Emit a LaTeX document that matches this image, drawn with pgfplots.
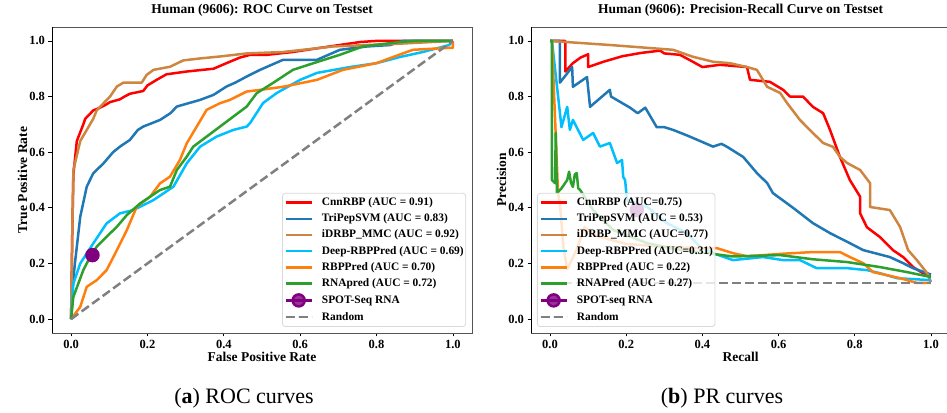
\documentclass[border=0pt]{standalone}
\usepackage{pgfplots}
\pgfplotsset{compat=1.18}
\usepackage{fontspec}
\setmainfont{Liberation Serif}
\definecolor{cRed}{RGB}{255,0,0}
\definecolor{cBlue}{HTML}{1F77B4}
\definecolor{cPeru}{HTML}{CD853F}
\definecolor{cCyan}{HTML}{00BFFF}
\definecolor{cOrange}{HTML}{FF7F0E}
\definecolor{cGreen}{HTML}{2CA02C}
\definecolor{cPurple}{HTML}{800080}
\definecolor{cGray}{HTML}{808080}
\definecolor{cSpine}{HTML}{555555}

\pgfplotsset{
  myaxis/.style={
    scale only axis, width=420pt, height=306pt,
    xmin=-0.05, xmax=1.05, ymin=-0.05, ymax=1.05,
    xtick={0,0.2,0.4,0.6,0.8,1.0}, ytick={0,0.2,0.4,0.6,0.8,1.0},
    /pgf/number format/.cd, fixed, fixed zerofill, precision=1, assume math mode=true, /pgfplots/.cd,
    ticklabel style={font=\fontsize{12.5}{14}\selectfont\bfseries},
    tick align=outside, xtick pos=left, ytick pos=left,
    major tick length=3.5pt, tick style={black, line width=0.8pt},
    axis line style={draw=cSpine, line width=0.8pt},
    title style={font=\fontsize{13.5}{15}\selectfont\bfseries, at={(0.5,1)}, anchor=base, yshift=7pt},
    xlabel style={font=\fontsize{13.5}{15}\selectfont\bfseries, at={(axis description cs:0.5,0)}, anchor=base, yshift=-29pt},
    ylabel style={font=\fontsize{13.5}{15}\selectfont\bfseries, at={(axis description cs:-0.0595,0.5)}, anchor=base},
    every axis plot/.append style={line width=2.5pt, line join=round},
    legend cell align=left,
    legend image code/.code={\draw[mark repeat=2,mark phase=2,#1] plot coordinates {(0pt,0pt) (13pt,0pt) (26pt,0pt)};},
    legend style={font=\fontsize{11.4}{13}\selectfont\bfseries, draw=black!15, line width=0.8pt,
      rounded corners=3pt, fill=white, fill opacity=0.8, draw opacity=1, text opacity=1,
      inner xsep=2pt, inner ysep=4pt, row sep=5.4pt, column sep=9pt,
      nodes={inner xsep=0pt, inner ysep=0pt, text height=8.3pt, text depth=2.5pt}},
  }
}

\begin{document}
\begin{tikzpicture}
\useasboundingbox (0,0) rectangle (947pt,412pt);
% ---------------- ROC ----------------
\begin{axis}[myaxis, at={(52pt,79pt)}, anchor=south west,
  title={Human (9606): ROC Curve on Testset},
  xlabel={False Positive Rate}, ylabel={True Positive Rate},
  legend style={at={(0.986,0.0196)}, anchor=south east}]
\addplot[cRed] coordinates {(0,0) (0.003,0.3) (0.006,0.52) (0.015,0.64) (0.032,0.70) (0.037,0.72) (0.058,0.75) (0.076,0.76) (0.09,0.77) (0.102,0.78) (0.128,0.79) (0.14,0.80) (0.154,0.81) (0.189,0.82) (0.2,0.84) (0.224,0.86) (0.25,0.88) (0.303,0.89) (0.373,0.90) (0.39,0.91) (0.407,0.92) (0.442,0.94) (0.469,0.95) (0.513,0.95) (0.58,0.96) (0.652,0.975) (0.757,0.996) (0.80,1.0) (1,1)};
\addlegendentry{CnnRBP (AUC = 0.91)}
\addplot[cBlue] coordinates {(0,0) (0.003,0.1) (0.010,0.20) (0.024,0.368) (0.041,0.476) (0.058,0.524) (0.085,0.56) (0.11,0.60) (0.128,0.62) (0.154,0.644) (0.175,0.68) (0.189,0.692) (0.233,0.716) (0.26,0.74) (0.277,0.764) (0.338,0.788) (0.373,0.806) (0.407,0.836) (0.43,0.85) (0.46,0.872) (0.495,0.896) (0.555,0.932) (0.644,0.932) (0.704,0.968) (0.775,0.98) (0.835,0.985) (0.87,1.0) (1,1)};
\addlegendentry{TriPepSVM (AUC = 0.83)}
\addplot[cPeru] coordinates {(0,0) (0.003,0.3) (0.006,0.536) (0.024,0.64) (0.041,0.68) (0.058,0.72) (0.067,0.75) (0.085,0.776) (0.102,0.80) (0.12,0.836) (0.137,0.85) (0.185,0.85) (0.198,0.878) (0.216,0.896) (0.259,0.907) (0.294,0.93) (0.338,0.937) (0.39,0.944) (0.46,0.955) (0.555,0.96) (0.686,0.98) (0.86,0.99) (1,1)};
\addlegendentry{iDRBP\_MMC (AUC = 0.92)}
\addplot[cCyan] coordinates {(0,0) (0.006,0.128) (0.024,0.2) (0.058,0.272) (0.093,0.344) (0.128,0.38) (0.163,0.392) (0.216,0.428) (0.268,0.476) (0.303,0.56) (0.338,0.62) (0.381,0.656) (0.425,0.68) (0.46,0.692) (0.469,0.705) (0.503,0.777) (0.539,0.813) (0.6,0.86) (0.644,0.885) (0.73,0.906) (0.80,0.92) (0.861,0.942) (0.921,0.96) (0.99,0.985) (1,1)};
\addlegendentry{Deep-RBPPred (AUC = 0.69)}
\addplot[cOrange] coordinates {(0,0) (0.024,0.044) (0.041,0.116) (0.067,0.14) (0.093,0.176) (0.12,0.248) (0.146,0.32) (0.172,0.404) (0.207,0.44) (0.233,0.488) (0.259,0.512) (0.285,0.572) (0.303,0.632) (0.329,0.692) (0.355,0.752) (0.39,0.776) (0.416,0.788) (0.46,0.818) (0.495,0.824) (0.555,0.835) (0.644,0.86) (0.712,0.896) (0.80,0.92) (0.843,0.942) (0.895,0.968) (0.99,0.975) (1,0.975) (1,1)};
\addlegendentry{RBPPred (AUC = 0.70)}
\addplot[cGreen] coordinates {(0,0) (0.006,0.08) (0.019,0.128) (0.032,0.176) (0.05,0.224) (0.067,0.26) (0.093,0.296) (0.12,0.332) (0.146,0.374) (0.181,0.416) (0.233,0.464) (0.259,0.476) (0.277,0.536) (0.303,0.584) (0.32,0.62) (0.355,0.656) (0.39,0.692) (0.425,0.728) (0.46,0.764) (0.486,0.812) (0.529,0.849) (0.581,0.896) (0.644,0.924) (0.704,0.95) (0.764,0.98) (0.861,0.996) (0.9,1.0) (1,1)};
\addlegendentry{RNApred (AUC = 0.72)}
\addplot[cPurple, mark=*, mark size=6pt] coordinates {(0.056,0.23)};
\addlegendentry{SPOT-Seq RNA}
\addplot[cGray, dash pattern=on 9pt off 4pt] coordinates {(0,0) (1,1)};
\addlegendentry{Random}
\draw[black, line width=0.8pt] (rel axis cs:0,1) -- (rel axis cs:0,0) -- (rel axis cs:1,0);
\end{axis}
% ---------------- PR ----------------
\begin{axis}[myaxis, at={(531pt,79pt)}, anchor=south west, width=419pt,
  title={Human (9606): Precision-Recall Curve on Testset},
  xlabel={Recall}, ylabel={Precision},
  legend style={at={(0.0143,0.0196)}, anchor=south west}]
\addplot[cRed] coordinates {(0,1) (0.04,1) (0.04,0.89) (0.06,0.92) (0.08,0.94) (0.10,0.952) (0.10,0.906) (0.14,0.925) (0.19,0.945) (0.24,0.957) (0.289,0.965) (0.30,0.955) (0.341,0.95) (0.375,0.925) (0.40,0.906) (0.446,0.914) (0.517,0.906) (0.525,0.86) (0.577,0.853) (0.612,0.824) (0.63,0.80) (0.664,0.80) (0.69,0.763) (0.717,0.74) (0.735,0.68) (0.761,0.583) (0.787,0.50) (0.814,0.44) (0.814,0.38) (0.832,0.33) (0.866,0.295) (0.90,0.248) (0.927,0.223) (0.953,0.187) (0.979,0.165) (1.0,0.16)};
\addlegendentry{CnnRBP (AUC=0.75)}
\addplot[cBlue] coordinates {(0,1) (0.026,1) (0.026,0.85) (0.058,0.906) (0.06,0.835) (0.097,0.87) (0.105,0.763) (0.157,0.824) (0.16,0.80) (0.21,0.76) (0.23,0.74) (0.25,0.76) (0.28,0.69) (0.30,0.69) (0.323,0.68) (0.36,0.66) (0.394,0.64) (0.428,0.62) (0.45,0.63) (0.465,0.619) (0.507,0.583) (0.543,0.525) (0.57,0.489) (0.585,0.453) (0.638,0.40) (0.69,0.345) (0.735,0.309) (0.787,0.273) (0.822,0.248) (0.892,0.223) (0.927,0.201) (0.953,0.183) (1.0,0.16)};
\addlegendentry{TriPepSVM (AUC = 0.53)}
\addplot[cPeru] coordinates {(0,1) (0.16,0.985) (0.323,0.968) (0.375,0.943) (0.428,0.925) (0.472,0.92) (0.517,0.906) (0.543,0.896) (0.57,0.835) (0.604,0.813) (0.622,0.777) (0.656,0.716) (0.69,0.669) (0.717,0.633) (0.743,0.619) (0.761,0.583) (0.78,0.561) (0.814,0.536) (0.84,0.489) (0.84,0.403) (0.892,0.392) (0.919,0.331) (0.94,0.248) (0.963,0.212) (0.99,0.165) (1.0,0.133)};
\addlegendentry{iDRBP\_MMC (AUC=0.77)}
\addplot[cCyan] coordinates {(0,1) (0.005,1) (0.026,0.74) (0.03,0.69) (0.045,0.763) (0.052,0.68) (0.06,0.716) (0.087,0.644) (0.113,0.669) (0.131,0.62) (0.157,0.633) (0.176,0.561) (0.189,0.572) (0.192,0.511) (0.197,0.50) (0.202,0.428) (0.255,0.403) (0.307,0.345) (0.36,0.309) (0.394,0.259) (0.428,0.237) (0.48,0.212) (0.559,0.223) (0.612,0.212) (0.656,0.212) (0.70,0.183) (0.78,0.183) (0.832,0.176) (0.866,0.165) (0.911,0.147) (1.0,0.14)};
\addlegendentry{Deep-RBPPred (AUC=0.31)}
\addplot[cOrange] coordinates {(0,1) (0.005,1) (0.021,0.453) (0.026,0.417) (0.035,0.259) (0.045,0.18) (0.07,0.25) (0.09,0.33) (0.12,0.30) (0.2,0.27) (0.3,0.26) (0.394,0.255) (0.438,0.255) (0.48,0.237) (0.517,0.226) (0.612,0.235) (0.69,0.241) (0.761,0.241) (0.787,0.223) (0.822,0.201) (0.848,0.169) (0.919,0.147) (0.963,0.13) (1.0,0.13)};
\addlegendentry{RBPPred (AUC = 0.22)}
\addplot[cGreen] coordinates {(0,1) (0.005,1) (0.005,0.50) (0.013,0.489) (0.015,0.669) (0.018,0.453) (0.03,0.47) (0.045,0.50) (0.05,0.53) (0.055,0.49) (0.06,0.475) (0.065,0.52) (0.07,0.525) (0.074,0.47) (0.079,0.464) (0.113,0.392) (0.166,0.32) (0.255,0.273) (0.341,0.248) (0.412,0.237) (0.48,0.225) (0.604,0.23) (0.69,0.215) (0.78,0.205) (0.866,0.187) (0.937,0.169) (1.0,0.151)};
\addlegendentry{RNAPred (AUC = 0.27)}
\addplot[cPurple, mark=*, mark size=6pt] coordinates {(0.228,0.392)};
\addlegendentry{SPOT-seq RNA}
\addplot[cGray, dash pattern=on 9pt off 4pt] coordinates {(0,0.13) (1,0.13)};
\addlegendentry{Random}
\draw[black, line width=0.8pt] (rel axis cs:0,1) -- (rel axis cs:0,0) -- (rel axis cs:1,0);
\end{axis}
% captions
\node[anchor=base, font=\fontsize{22}{26}\selectfont, inner sep=0pt] at (244pt,9pt) {(\textbf{a})~ROC curves};
\node[anchor=base, font=\fontsize{22}{26}\selectfont, inner sep=0pt] at (722pt,9pt) {(\textbf{b})~PR curves};
\end{tikzpicture}
\end{document}
